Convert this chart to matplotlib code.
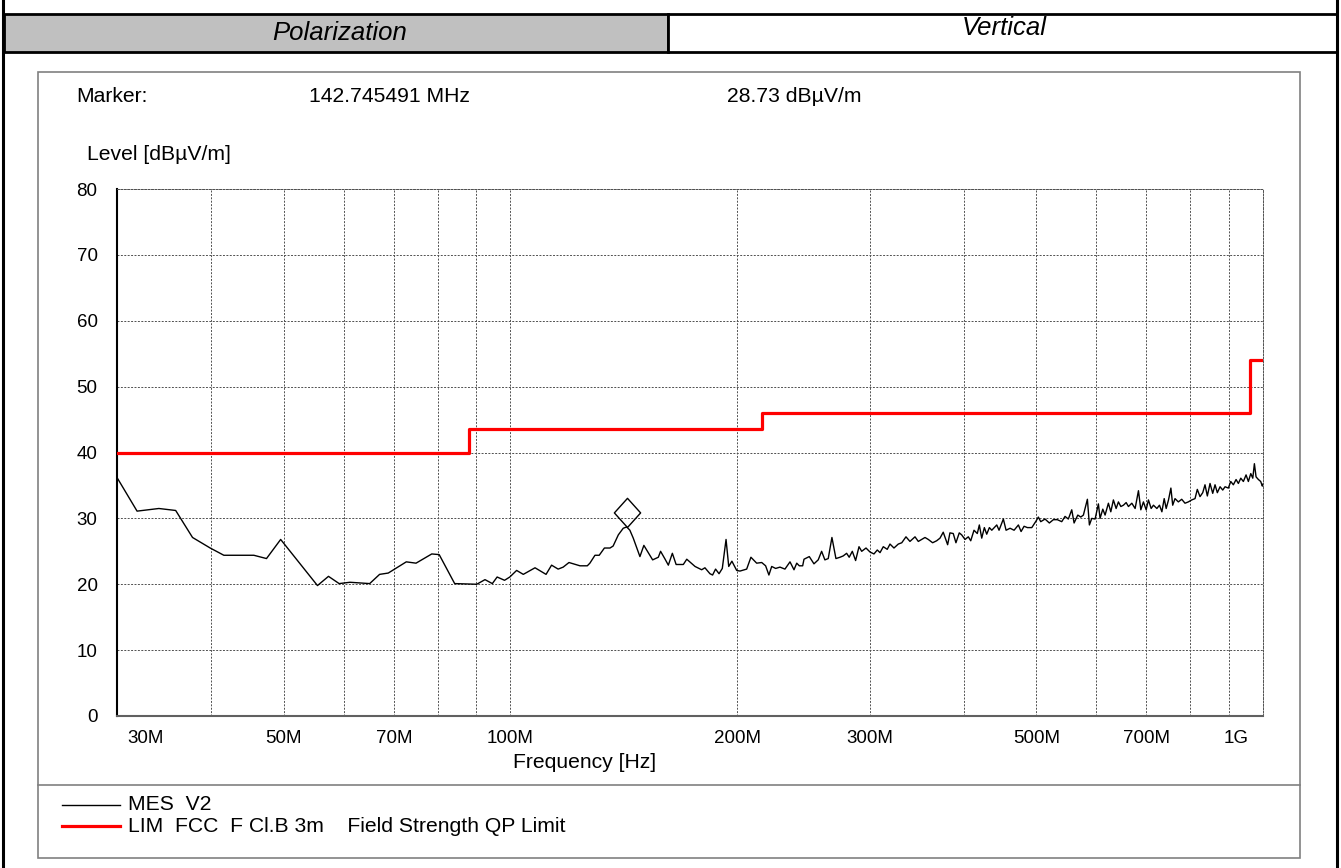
import matplotlib.pyplot as plt
from matplotlib.patches import Rectangle
from matplotlib.lines import Line2D
from matplotlib.path import Path
from matplotlib.ticker import NullFormatter
import matplotlib.transforms as mtransforms

plt.rcParams['font.family'] = ['Liberation Sans', 'DejaVu Sans']

# ---------- data ----------
# MES V2 trace: frequency in MHz, level in dBuV/m
mes_freq = [
    30.0, 31.9, 34.1, 35.9, 37.8, 39.9, 41.6, 45.6, 47.4, 49.5,
    55.4, 57.3, 59.2, 61.2, 65.0, 67.0, 68.8, 70.6, 72.7, 74.9,
    78.6, 80.4, 84.3, 90.2, 92.5, 94.6, 96.0, 98.2, 99.8, 101.9,
    104.0, 107.8, 111.5, 113.4, 115.7, 117.5, 119.6, 123.7, 126.5, 127.5,
    129.5, 131.2, 133.3, 135.6, 136.9, 139.1, 141.2, 142.7, 144.1, 145.6,
    148.6, 150.4, 154.5, 157.2, 158.3, 160.5, 162.1, 164.1, 166.0, 169.7,
    171.5, 175.9, 179.5, 181.3, 184.1, 185.6, 187.3, 189.3, 191.2, 193.4,
    195.0, 196.9, 199.8, 201.8, 206.0, 208.7, 212.4, 215.7, 218.3, 220.5,
    222.4, 225.1, 228.1, 231.6, 235.2, 238.1, 240.1, 242.0, 244.5, 245.5,
    249.5, 253.1, 256.4, 259.1, 261.7, 264.4, 267.4, 270.7, 274.1, 276.8,
    279.7, 281.9, 284.6, 287.5, 290.5, 292.9, 296.8, 300.4, 304.1, 307.2,
    309.8, 312.9, 316.7, 319.4, 323.3, 327.6, 331.1, 335.4, 339.5, 344.8,
    348.3, 355.5, 359.1, 363.9, 368.4, 372.2, 375.9, 381.0, 383.7, 387.6,
    390.8, 394.8, 397.7, 401.8, 405.9, 408.9, 413.0, 417.2, 419.8, 422.9,
    426.3, 429.4, 432.9, 436.1, 439.5, 442.8, 445.9, 451.8, 455.6, 461.2,
    466.9, 473.1, 477.0, 481.4, 486.3, 492.9, 499.4, 502.9, 506.6, 513.3,
    520.1, 526.5, 533.0, 540.2, 545.7, 551.2, 557.0, 561.0, 567.4, 572.6,
    577.2, 584.3, 587.9, 592.2, 598.2, 604.3, 607.4, 612.5, 616.8, 623.1,
    627.7, 632.7, 638.0, 642.5, 647.3, 652.4, 657.9, 662.5, 669.4, 676.2,
    683.1, 688.1, 693.6, 699.4, 704.3, 710.2, 715.2, 722.7, 728.5, 733.9,
    739.1, 743.6, 748.9, 754.4, 758.6, 764.0, 771.8, 779.8, 787.7, 795.7,
    804.0, 812.2, 817.9, 824.7, 831.6, 837.4, 843.4, 850.4, 857.4, 863.5,
    869.6, 876.9, 884.1, 890.4, 899.4, 906.0, 913.3, 920.9, 927.4, 934.3,
    941.7, 949.5, 956.2, 963.3, 969.2, 974.0, 979.0, 986.0, 993.0, 997.9,
    1000.0,
]
mes_level = [
    36.2, 31.1, 31.5, 31.2, 27.1, 25.5, 24.4, 24.4, 23.9, 26.8,
    19.8, 21.2, 20.1, 20.3, 20.1, 21.5, 21.7, 22.5, 23.4, 23.2,
    24.6, 24.5, 20.1, 20.0, 20.7, 20.1, 21.1, 20.6, 21.1, 22.1,
    21.5, 22.5, 21.5, 22.9, 22.3, 22.6, 23.3, 22.8, 22.8, 23.2,
    24.4, 24.4, 25.5, 25.5, 25.8, 27.5, 28.5, 28.7, 28.2, 27.0,
    24.2, 25.9, 23.7, 24.1, 25.0, 23.8, 22.9, 24.7, 23.0, 23.0,
    23.8, 22.7, 22.2, 22.5, 21.6, 21.4, 22.3, 21.6, 22.4, 26.8,
    22.7, 23.5, 22.1, 22.0, 22.3, 24.1, 23.2, 23.3, 22.8, 21.4,
    22.7, 22.4, 22.6, 22.3, 23.4, 22.2, 23.2, 22.8, 22.8, 23.8,
    24.2, 23.1, 23.7, 25.0, 23.7, 23.9, 27.1, 23.9, 24.1, 24.3,
    24.7, 24.1, 25.0, 23.6, 25.7, 25.0, 25.5, 24.9, 24.6, 25.2,
    24.8, 25.7, 25.3, 26.1, 25.5, 26.1, 26.3, 27.2, 26.5, 27.2,
    26.5, 27.1, 26.8, 26.3, 26.6, 27.0, 27.9, 26.0, 27.8, 27.7,
    26.3, 27.8, 27.5, 26.8, 27.2, 26.6, 28.2, 27.7, 29.0, 27.0,
    28.6, 27.6, 28.6, 28.2, 28.6, 29.0, 28.2, 29.9, 28.2, 28.5,
    28.2, 29.0, 28.0, 28.8, 28.6, 28.6, 29.6, 30.2, 29.5, 29.9,
    29.3, 29.8, 29.8, 29.5, 30.3, 29.9, 31.3, 29.3, 30.5, 30.2,
    30.5, 32.9, 29.0, 30.0, 29.9, 32.2, 30.0, 31.4, 30.5, 32.3,
    31.0, 32.8, 31.5, 32.5, 31.8, 32.0, 32.4, 31.8, 32.3, 31.5,
    34.2, 31.3, 32.5, 31.3, 32.8, 31.5, 32.0, 31.5, 32.0, 31.0,
    33.0, 31.5, 32.8, 34.6, 32.0, 33.0, 32.5, 32.9, 32.3, 32.5,
    32.8, 33.0, 34.4, 33.3, 33.9, 35.1, 33.4, 35.3, 33.8, 35.1,
    33.9, 34.8, 34.3, 34.8, 34.6, 35.6, 35.1, 35.9, 35.3, 36.1,
    35.6, 36.6, 35.6, 36.8, 36.1, 38.3, 36.3, 35.9, 35.6, 34.9,
    35.2,
]

# FCC part 15 class B, 3 m, quasi-peak limit (step edges)
lim_freq = [30, 88, 216, 960, 1000]
lim_level = [40, 43.5, 46, 54, 54]

marker_freq = 142.745491
marker_level = 28.73

x_ticks = [30, 50, 70, 100, 200, 300, 500, 700, 1000]
x_tick_labels = ['30M', '50M', '70M', '100M', '200M', '300M', '500M', '700M', '1G']
x_minor = [40, 60, 80, 90, 400, 600, 800, 900]
y_ticks = [0, 10, 20, 30, 40, 50, 60, 70, 80]

legend_labels = ['MES  V2', 'LIM  FCC  F Cl.B 3m    Field Strength QP Limit']

# ---------- page layout (pixel helpers) ----------
W, H = 1341, 868
fig = plt.figure(figsize=(W / 100, H / 100), dpi=100)


def fx(x):
    return x / W


def fy(y):
    return 1 - y / H


def box(x0, y0, x1, y1, **kw):
    r = Rectangle((fx(x0), fy(y1)), (x1 - x0) / W, (y1 - y0) / H,
                  transform=fig.transFigure, **kw)
    fig.add_artist(r)


def hline(x0, x1, y, **kw):
    fig.add_artist(Line2D([fx(x0), fx(x1)], [fy(y), fy(y)], transform=fig.transFigure, **kw))


def vline(x, y0, y1, **kw):
    fig.add_artist(Line2D([fx(x), fx(x)], [fy(y0), fy(y1)], transform=fig.transFigure, **kw))


# header table row
box(4, 14, 668, 52, facecolor='#C0C0C0', edgecolor='black', lw=2)
box(668, 14, 1337, 52, facecolor='white', edgecolor='black', lw=2)
vline(3, 0, 868, color='black', lw=2.2)
vline(1337, 0, 868, color='black', lw=2.2)
fig.text(fx(340), fy(33), 'Polarization', ha='center', va='center', fontsize=18.5, style='italic')
fig.text(fx(1004), fy(28), 'Vertical', ha='center', va='center', fontsize=18.5, style='italic')

# chart frame and legend separator
box(38, 72, 1300, 858, facecolor='none', edgecolor='#808080', lw=1.2)
hline(38, 1300, 785, color='#808080', lw=1.2)

# marker read-out
fs = 15.2
fig.text(fx(76), fy(96), 'Marker:', ha='left', va='center', fontsize=fs)
fig.text(fx(309), fy(96), f'{marker_freq:.6f} MHz', ha='left', va='center', fontsize=fs)
fig.text(fx(727), fy(96), f'{marker_level:.2f} dBµV/m', ha='left', va='center', fontsize=fs)
fig.text(fx(87), fy(155), 'Level [dBµV/m]', ha='left', va='center', fontsize=fs)
fig.text(fx(585), fy(763), 'Frequency [Hz]', ha='center', va='center', fontsize=fs)

# ---------- plot ----------
ax = fig.add_axes([fx(117), fy(716), (1263 - 117) / W, (716 - 189) / H])
ax.set_xscale('log')

lim_line, = ax.step(lim_freq, lim_level, where='post', color='#FF0000', lw=2.3, zorder=3)
mes_line, = ax.plot(mes_freq, mes_level, color='black', lw=1.0, zorder=4)

# diamond marker sitting on the peak (bottom vertex at the point)
diamond = Path([(0, 0), (0.9, 1), (0, 2), (-0.9, 1), (0, 0)],
               [Path.MOVETO, Path.LINETO, Path.LINETO, Path.LINETO, Path.CLOSEPOLY])
ax.plot([marker_freq], [marker_level], marker=diamond, markersize=42,
        markerfacecolor='none', markeredgecolor='black', markeredgewidth=1.0, zorder=5)

ax.set_xlim(30, 1000)
ax.set_ylim(0, 80)
ax.set_xticks(x_ticks)
ax.set_xticklabels(x_tick_labels)
ax.set_xticks(x_minor, minor=True)
ax.xaxis.set_minor_formatter(NullFormatter())
ax.set_yticks(y_ticks)
ax.tick_params(which='both', length=0, labelsize=13.5)
ax.tick_params(axis='x', pad=10)
ax.tick_params(axis='y', pad=14)

# keep the end labels inside the plot width like the analyser software does
xl = ax.get_xticklabels()
xl[0].set_transform(xl[0].get_transform() + mtransforms.ScaledTranslation(0.29, 0, fig.dpi_scale_trans))
xl[-1].set_transform(xl[-1].get_transform() + mtransforms.ScaledTranslation(-0.27, 0, fig.dpi_scale_trans))

ax.grid(True, which='both', color='#505050', linestyle=(0, (2, 1.5)), lw=0.7)
for s in ['top', 'right']:
    ax.spines[s].set_linestyle((0, (2, 1.5)))
    ax.spines[s].set_color('#505050')
    ax.spines[s].set_linewidth(0.7)
ax.spines['left'].set_color('black')
ax.spines['left'].set_linewidth(1.5)
ax.spines['bottom'].set_color('#606060')
ax.spines['bottom'].set_linewidth(1.5)

# ---------- legend block ----------
hline(62, 120, 805, color='black', lw=1.0)
hline(62, 120, 826, color='#FF0000', lw=2.3)
fig.text(fx(128), fy(805), legend_labels[0], ha='left', va='center', fontsize=fs)
fig.text(fx(128), fy(826), legend_labels[1], ha='left', va='center', fontsize=fs)

plt.savefig('out.png', dpi=100)
